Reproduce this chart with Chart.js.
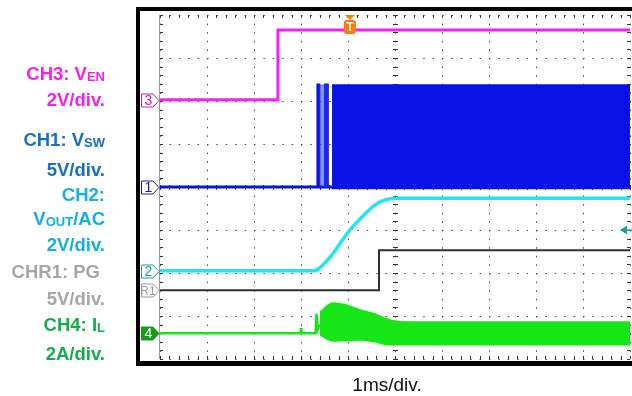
<!DOCTYPE html>
<html lang="en">
<head>
<meta charset="UTF-8" />
<title>Start-up waveforms</title>
<script src="https://cdn.jsdelivr.net/npm/chart.js"></script>
<style>
  body { margin: 0; background: #fff; font-family: "Liberation Sans", Arial, sans-serif; }
  .wrap { position: relative; width: 632px; height: 396px; overflow: hidden; }
  .frame {
    position: absolute; left: 136px; top: 7px; width: 520px; height: 350px;
    border: 4px solid #000; border-bottom-width: 5px; background: #fff;
  }
  canvas { position: absolute; left: 0; top: 0; }
  .lbl {
    position: absolute; left: 0; width: 105px; text-align: right;
    font-weight: bold; font-size: 18.5px; line-height: 18px; white-space: nowrap;
  }
  .lbl sub { font-size: 13px; vertical-align: baseline; position: relative; top: 1px; }
  .ch3 { color: #f41ef0; }
  .ch1 { color: #1670c4; }
  .ch2 { color: #12aee8; }
  .chr1 { color: #a6a6a6; }
  .ch4 { color: #12ae4c; }
  .xlabel { position: absolute; left: 327px; width: 120px; top: 375px; text-align: center; font-size: 19px; line-height: 19px; color: #111; }
</style>
</head>
<body>
<div class="wrap">
  <div class="frame"></div>
  <canvas id="scope" width="632" height="396"></canvas>

  <div class="lbl ch3" style="top:65px">CH3: V<sub>EN</sub></div>
  <div class="lbl ch3" style="top:91px">2V/div.</div>
  <div class="lbl ch1" style="top:131px">CH1: V<sub>SW</sub></div>
  <div class="lbl ch1" style="top:161px">5V/div.</div>
  <div class="lbl ch2" style="top:186px">CH2:</div>
  <div class="lbl ch2" style="top:210px">V<sub>OUT</sub>/AC</div>
  <div class="lbl ch2" style="top:236px">2V/div.</div>
  <div class="lbl chr1" style="top:263px; width:100px">CHR1: PG</div>
  <div class="lbl chr1" style="top:290px">5V/div.</div>
  <div class="lbl ch4" style="top:316px">CH4: I<sub>L</sub></div>
  <div class="lbl ch4" style="top:345px">2A/div.</div>
  <div class="xlabel">1ms/div.</div>
</div>

<script>
  // time axis in divisions (1 ms/div), amplitude in divisions from screen centre
  const timeDivs = [0, 10];
  const ampDivs = [-4, 4];

  // CH3 enable
  const enT = [0, 2.51, 2.51, 10];
  const enV = [2.03, 2.03, 3.65, 3.65];

  // CH1 switch node: baseline with first pulses, then the switching envelope
  const swT = [0, 3.36, 3.36, 3.38, 3.38, 3.52, 3.52, 3.56, 3.56, 10];
  const swV = [0, 0, 2.37, 2.37, 0, 0, 2.37, 2.37, 0, 0];
  const swSoftT = [3.38, 3.59];
  const swSoftV = [2.37, 2.37];
  const swEnvT = [3.66, 10];
  const swEnvV = [2.37, 2.37];

  // CH2 output voltage soft-start
  const voutT = [0, 3.30, 3.40, 3.62, 4.04, 4.36, 4.57, 4.79, 5.00, 10];
  const voutV = [-1.95, -1.95, -1.88, -1.63, -1.00, -0.63, -0.42, -0.30, -0.26, -0.26];

  // CHR1 power good
  const pgT = [0, 4.66, 4.66, 10];
  const pgV = [-2.40, -2.40, -1.47, -1.47];

  // CH4 inductor current: baseline, then ripple envelope
  const ilT = [0, 2.99, 3.00, 3.01, 3.31, 3.33, 3.36, 3.40];
  const ilV = [-3.40, -3.40, -3.28, -3.40, -3.40, -2.95, -3.30, -3.20];
  const ilEnvT = [3.40, 3.68, 3.94, 4.26, 4.57, 4.89, 5.32, 10];
  const ilHi = [-2.91, -2.70, -2.74, -2.86, -2.95, -3.09, -3.14, -3.14];
  const ilLo = [-3.44, -3.58, -3.57, -3.56, -3.60, -3.67, -3.67, -3.67];

  // channel ground markers
  const markers = [
    { text: '3', y: 2.03, color: '#c21cc0', fill: false },
    { text: '1', y: 0, color: '#1a1aa0', fill: false },
    { text: '2', y: -1.95, color: '#14a0a4', fill: false },
    { text: 'R1', y: -2.40, color: '#9a9a9a', fill: false },
    { text: '4', y: -3.40, color: '#1a9a1a', fill: true }
  ];
  const trigTime = 4.04;
  const trigLevel = -1.0;

  const pts = (xs, ys) => xs.map((x, i) => ({ x: x, y: ys[i] }));

  const scopeDecor = {
    id: 'scopeDecor',
    beforeDatasetsDraw(chart) {
      const { ctx, chartArea: a, scales: { x, y } } = chart;
      ctx.save();
      ctx.fillStyle = '#333';
      // ticks on edges and on centre lines, every 1/5 division
      for (let k = 0; k <= 50; k++) {
        const px = Math.round(x.getPixelForValue(k / 5));
        ctx.fillRect(px, a.top, 1, 3);
        ctx.fillRect(px, a.bottom - 3, 1, 3);
        ctx.fillRect(px, y.getPixelForValue(0) - 2, 1, 5);
      }
      for (let k = -20; k <= 20; k++) {
        const py = Math.round(y.getPixelForValue(k / 5));
        ctx.fillRect(a.left, py, 3, 1);
        ctx.fillRect(a.right - 3, py, 3, 1);
        ctx.fillRect(x.getPixelForValue(5) - 2, py, 5, 1);
      }
      ctx.fillStyle = '#9a9a9a';
      ctx.fillRect(a.left - 1, a.top, 1, a.bottom - a.top);
      ctx.restore();
    },
    afterDraw(chart) {
      const { ctx, chartArea: a, scales: { x, y } } = chart;
      ctx.save();
      // channel markers on the left edge
      markers.forEach(m => {
        const cy = Math.round(y.getPixelForValue(m.y)) + 0.5;
        const l = 141.5, r = 153, tip = a.left - 1, h = 6.5;
        ctx.beginPath();
        ctx.moveTo(l, cy - h);
        ctx.lineTo(r, cy - h);
        ctx.lineTo(tip, cy);
        ctx.lineTo(r, cy + h);
        ctx.lineTo(l, cy + h);
        ctx.closePath();
        ctx.fillStyle = m.fill ? m.color : '#fff';
        ctx.fill();
        ctx.strokeStyle = m.color;
        ctx.lineWidth = 1;
        ctx.stroke();
        ctx.fillStyle = m.fill ? '#fff' : m.color;
        ctx.font = (m.text.length > 1 ? '12px' : '14px') + ' "Liberation Sans", Arial, sans-serif';
        ctx.textAlign = 'center';
        ctx.textBaseline = 'middle';
        ctx.fillText(m.text, m.text.length > 1 ? 148 : 148.5, cy + 1);
      });
      // trigger position marker
      const tx = x.getPixelForValue(trigTime);
      ctx.fillStyle = '#ff7a00';
      ctx.beginPath();
      ctx.moveTo(tx - 5, a.top);
      ctx.lineTo(tx + 5, a.top);
      ctx.lineTo(tx, a.top + 5);
      ctx.closePath();
      ctx.fill();
      ctx.beginPath();
      ctx.roundRect(tx - 6, a.top + 5, 12, 14, 3);
      ctx.fill();
      ctx.fillStyle = '#fff';
      ctx.font = 'bold 12px "Liberation Sans", Arial, sans-serif';
      ctx.textAlign = 'center';
      ctx.textBaseline = 'middle';
      ctx.fillText('T', tx, a.top + 12.5);
      // trigger level arrow on the right edge
      const ty = y.getPixelForValue(trigLevel);
      ctx.fillStyle = '#14a0a4';
      ctx.beginPath();
      ctx.moveTo(a.right - 10, ty);
      ctx.lineTo(a.right - 3, ty - 4.5);
      ctx.lineTo(a.right - 3, ty + 4.5);
      ctx.closePath();
      ctx.fill();
      ctx.fillRect(a.right - 3, ty - 0.5, 6, 1.5);
      ctx.restore();
    }
  };

  const lineDs = (data, color, width, extra) => Object.assign({
    data: data,
    borderColor: color,
    backgroundColor: color,
    borderWidth: width,
    pointRadius: 0,
    tension: 0,
    fill: false
  }, extra || {});

  new Chart(document.getElementById('scope'), {
    type: 'line',
    data: {
      datasets: [
        lineDs(pts(enT, enV), '#f81ef8', 3),
        lineDs(pts(swEnvT, swEnvV), '#0a12e6', 1.5, { fill: { value: -0.05 } }),
        lineDs(pts(swSoftT, swSoftV), 'rgba(40,60,240,0.55)', 1, { fill: { value: 0 } }),
        lineDs(pts(swT, swV), '#0a12e6', 3),
        lineDs(pts(voutT, voutV), '#22e4f4', 3.5, { cubicInterpolationMode: 'monotone' }),
        lineDs(pts(pgT, pgV), '#303030', 2),
        lineDs(pts(ilEnvT, ilHi), '#16e616', 1.5, { fill: '+1', cubicInterpolationMode: 'monotone' }),
        lineDs(pts(ilEnvT, ilLo), '#16e616', 1.5, { cubicInterpolationMode: 'monotone' }),
        lineDs(pts(ilT, ilV), '#16e616', 2.5)
      ]
    },
    options: {
      responsive: false,
      animation: false,
      devicePixelRatio: 1,
      layout: { padding: { left: 160, top: 15, right: 2, bottom: 37 } },
      plugins: { legend: { display: false }, tooltip: { enabled: false } },
      scales: {
        x: {
          type: 'linear',
          min: timeDivs[0],
          max: timeDivs[1],
          ticks: { display: false, stepSize: 1 },
          grid: { color: '#444', lineWidth: 1, drawTicks: false },
          border: { display: false, dash: [1.5, 7.1] }
        },
        y: {
          type: 'linear',
          min: ampDivs[0],
          max: ampDivs[1],
          ticks: { display: false, stepSize: 1 },
          grid: { color: '#444', lineWidth: 1, drawTicks: false },
          border: { display: false, dash: [1.5, 7.9] }
        }
      }
    },
    plugins: [scopeDecor]
  });
</script>
</body>
</html>
